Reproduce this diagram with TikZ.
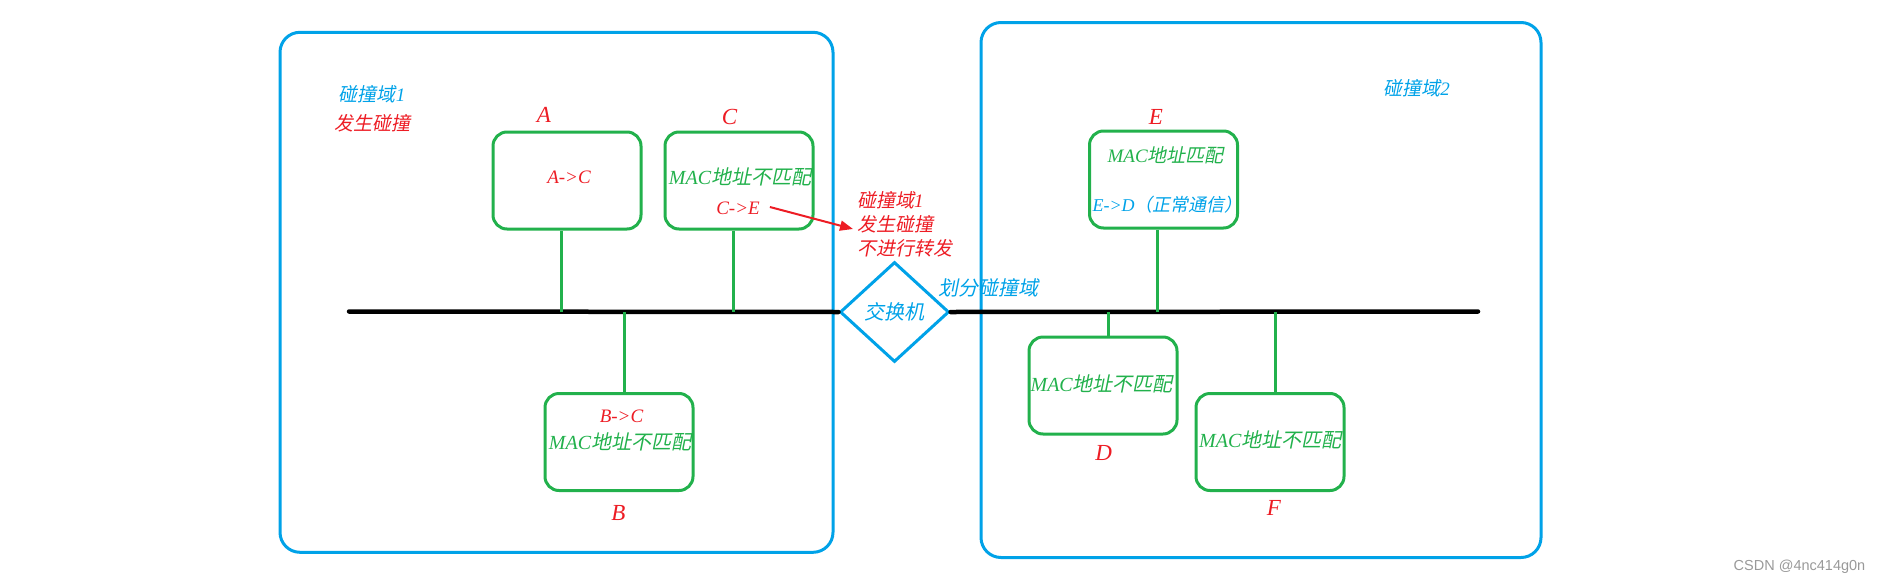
\documentclass[tikz,border=0pt]{standalone}
\usepackage{fontspec}
\setmainfont{Liberation Serif}
\newfontfamily\cjk[FakeSlant=0.2]{Noto Sans CJK SC}
\newfontfamily\wmfont{Liberation Sans}
\newcommand\zh[1]{{\cjk\upshape #1}}
\usepackage{tikz}
\usetikzlibrary{positioning}
\usetikzlibrary{arrows.meta,shapes.geometric}

\definecolor{domblue}{RGB}{0,162,232}
\definecolor{hostgreen}{RGB}{34,177,76}
\definecolor{markred}{RGB}{237,28,36}

\begin{document}
\begin{tikzpicture}[%
    x=1pt, y=-1pt,
    dombox/.style={draw=domblue,line width=3pt,rounded corners=20pt,inner sep=0pt},
    host/.style={draw=hostgreen,line width=3pt,rounded corners=14pt,minimum width=148pt,minimum height=97pt,inner sep=0pt},
    hostname/.style={text=markred,inner sep=0pt,font=\fontsize{23}{26}\selectfont\itshape},
    redtxt/.style={text=markred,inner sep=0pt,font=\fontsize{19}{24}\selectfont\itshape},
    greentxt/.style={text=hostgreen,inner sep=0pt,font=\fontsize{20}{24}\selectfont\itshape},
    bluetxt/.style={text=domblue,inner sep=0pt,font=\fontsize{19}{24}\selectfont\itshape},
    bus/.style={line width=4.5pt,line cap=round},
    wire/.style={draw=hostgreen,line width=3pt}
]

\useasboundingbox (0,0) rectangle (1880,584);

% ---------------- Collision domains ----------------
\node[dombox,minimum width=553pt,minimum height=520pt] (dom1) at (556.5,292.3) {};
\node[dombox,minimum width=560pt,minimum height=535pt] (dom2) at (1261,290) {};

\node[bluetxt] (d1name) at (372,94) {\zh{碰撞域}1};
\node[redtxt] (d1note) at (372,123) {\zh{发生碰撞}};
\node[bluetxt] (d2name) at (1416.7,88.3) {\zh{碰撞域}2};

% ---------------- Switch and bus ----------------
\node[diamond,draw=domblue,line width=3pt,minimum width=109pt,minimum height=100pt,inner sep=0pt,
      text=domblue,font=\fontsize{20}{24}\selectfont] (sw) at (894.5,312) {\zh{交换机}};
\coordinate (busL) at (349,311.5);
\coordinate (busR) at (1478,311.5);
\draw[bus] (busL) -- (sw.west);
\draw[bus] (sw.east) -- (busR);

\node[bluetxt,font=\fontsize{20}{24}\selectfont] (split) at (988,288) {\zh{划分碰撞域}};

% ---------------- Hosts ----------------
\foreach \n/\px/\py in {A/567/180.5, C/739/180.5, B/619/442, E/1163.5/179.5, D/1103/385.5, F/1270/442} {
    \node[host] (h\n) at (\px,\py) {};
}
\foreach \n in {A,C,E} {
    \draw[wire] ([xshift=-6pt]h\n.south) -- ([xshift=-6pt]h\n.south |- busL);
}
\foreach \n in {B,D,F} {
    \draw[wire] ([xshift=5.5pt]h\n.north) -- ([xshift=5.5pt]h\n.north |- busL);
}
\foreach \n/\px/\py in {A/544/115, C/729.5/117, B/618.5/513, E/1156/117, D/1103.6/453, F/1274/508} {
    \node[hostname] (l\n) at (\px,\py) {\n};
}

% ---------------- Frame texts ----------------
\node[redtxt] (tAC) at (569,177) {A->C};
\node[greentxt] (tC) at (740,177) {MAC\zh{地址不匹配}};
\node[redtxt] (tCE) at (738,208) {C->E};
\node[redtxt] (tBC) at (621.5,416) {B->C};
\node[greentxt] (tB) at (620,442) {MAC\zh{地址不匹配}};
\node[greentxt,font=\fontsize{19}{24}\selectfont\itshape] (tE) at (1165.7,155) {MAC\zh{地址匹配}};
\node[bluetxt,font=\fontsize{18}{22}\selectfont\itshape] (tED) at (1167.6,204.3) {E->D\zh{（正常通信）}};
\node[greentxt] (tD) at (1101.7,384) {MAC\zh{地址不匹配}};
\node[greentxt] (tF) at (1270.3,440) {MAC\zh{地址不匹配}};

% ---------------- Note and arrow ----------------
\node[redtxt,align=left,anchor=west] (note) at (857,224) {\zh{碰撞域}1\\\zh{发生碰撞}\\\zh{不进行转发}};
\draw[-{Triangle[length=13pt,width=10pt]},draw=markred,fill=markred,line width=2pt]
    ([xshift=10pt,yshift=1pt]tCE.east) -- ([xshift=-4pt,yshift=-5pt]note.west);

\node[text=gray!80,inner sep=0pt,font=\wmfont\fontsize{14.5}{17}\selectfont] (wm) at (1799.5,567) {CSDN @4nc414g0n};

\end{tikzpicture}
\end{document}
